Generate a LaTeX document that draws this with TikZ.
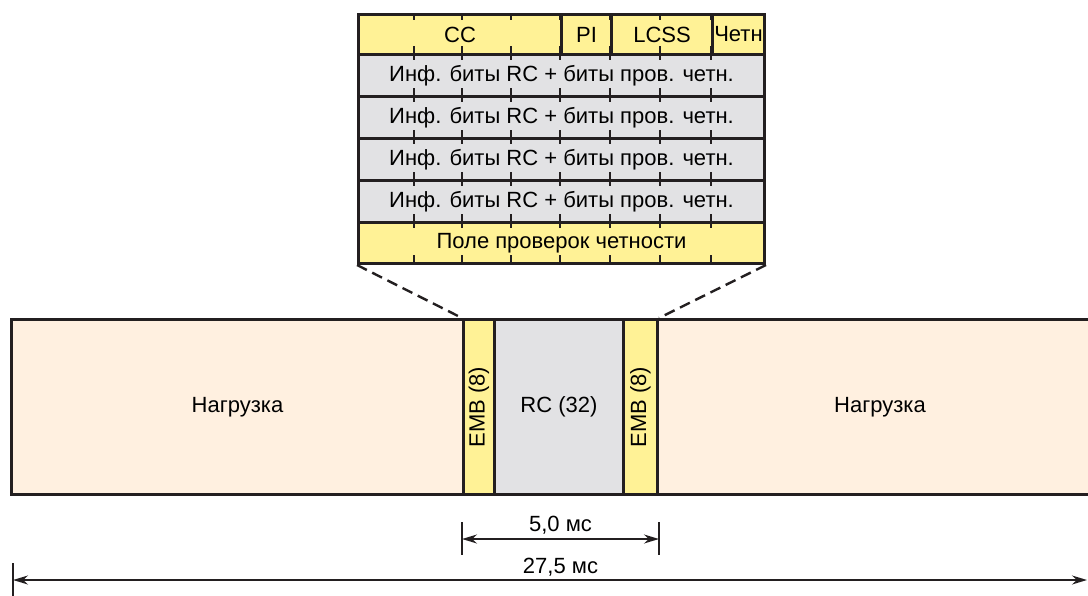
\documentclass[tikz,border=0pt]{standalone}
\usepackage{fontspec}
\setmainfont{Liberation Sans}
\usetikzlibrary{arrows.meta, positioning, calc}
\definecolor{myframe}{RGB}{35,31,32}
\definecolor{hdryellow}{RGB}{255,242,150}
\definecolor{hdrgray}{RGB}{226,226,228}
\definecolor{hdrpeach}{RGB}{255,240,224}
\tikzset{
  cell/.style={rectangle, draw=myframe, line width=3pt, inner sep=0pt,
    anchor=north west, font=\fontsize{22}{24}\selectfont},
  ycell/.style={cell, fill=hdryellow},
  gcell/.style={cell, fill=hdrgray},
  pcell/.style={cell, fill=hdrpeach},
  bittick/.style={line width=2pt, color=myframe},
  zoomline/.style={line width=2.4pt, color=myframe, dash pattern=on 11pt off 6pt},
  dimline/.style={line width=2pt, color=myframe},
  dimarrow/.style={{Stealth[length=15pt,width=9pt]}-{Stealth[length=15pt,width=9pt]},
    line width=1.6pt, color=myframe},
  lbl/.style={font=\fontsize{22}{24}\selectfont, inner sep=1pt}
}
\begin{document}
\begin{tikzpicture}[x=1pt,y=-1pt]
  \useasboundingbox (0,0) rectangle (1088,595);
  % frame bar
  \node[pcell, minimum width=452pt, minimum height=175pt] (load1) at (10,318) {};
  \node[ycell, minimum width=31pt, minimum height=175pt] (emb1) at (462,318) {};
  \node[gcell, minimum width=129pt, minimum height=175pt] (rc) at (493,318) {};
  \node[ycell, minimum width=34pt, minimum height=175pt] (emb2) at (622,318) {};
  \node[pcell, minimum width=440pt, minimum height=175pt] (load2) at (656,318) {};
  \node[lbl] at (load1.center) {Нагрузка};
  \node[lbl] at ($(load2.west)+(224,0)$) {Нагрузка};
  \node[lbl] at (rc.center) {RC (32)};
  \node[lbl, rotate=90] at (emb1.center) {EMB (8)};
  \node[lbl, rotate=90] at (emb2.center) {EMB (8)};
  % RC structure
  \node[ycell, minimum width=203pt, minimum height=40pt] (cc) at (357,13) {CC};
  \node[ycell, minimum width=50pt, minimum height=40pt] (pi) at (560,13) {PI};
  \node[ycell, minimum width=101pt, minimum height=40pt] (lcss) at (610,13) {LCSS};
  \node[ycell, minimum width=52pt, minimum height=40pt] (par) at (711,13) {Четн};
  \foreach \r/\y in {1/53, 2/95, 3/137, 4/179}
    \node[gcell, minimum width=406pt, minimum height=42pt] (info\r) at (357,\y)
      {Инф. биты RC + биты пров. четн.};
  \node[ycell, minimum width=406pt, minimum height=41pt] (check) at (357,221)
    {Поле проверок четности};
  % bit ticks
  \foreach \x in {414,462,511,560,610,660,711} {
    \draw[bittick] (\x,13) -- (\x,20);
    \draw[bittick] (\x,262) -- (\x,255);
    \foreach \y in {53,95,137,179,221}
      \draw[bittick] (\x,\y-7) -- (\x,\y+7);
  }
  % zoom lines
  \draw[zoomline] (check.south west) -- (emb1.north west);
  \draw[zoomline] (check.south east) -- (emb2.north east);
  % durations
  \coordinate (d1a) at ($(emb1.south west)+(0,26)$);
  \coordinate (d1b) at ($(emb2.south east)+(0,26)$);
  \draw[dimline] (d1a) -- ++(0,33);
  \draw[dimline] (d1b) -- ++(0,33);
  \draw[dimarrow] ($(d1a)+(0,17)$) -- ($(d1b)+(0,17)$);
  \node[lbl] (t5) at ($(d1a)!0.5!(d1b)+(0,3)$) {5,0 мс};
  \node[lbl] (t27) at ($(d1a)!0.5!(d1b)+(0,45)$) {27,5 мс};
  \coordinate (d2a) at (13,563);
  \coordinate (d2b) at (1087,580);
  \draw[dimline] (d2a) -- ++(0,40);
  \draw[dimarrow] ($(d2a)+(0,17)$) -- (d2b);
\end{tikzpicture}
\end{document}
